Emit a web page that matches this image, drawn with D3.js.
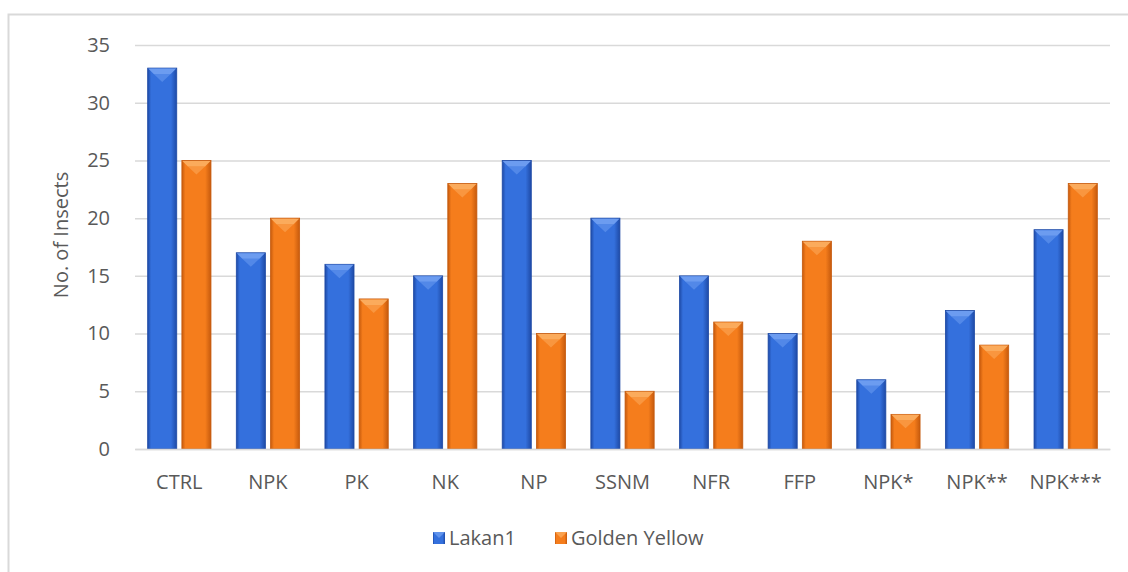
<!DOCTYPE html>
<html lang="en">
<head>
<meta charset="UTF-8">
<script src="https://d3js.org/d3.v7.min.js"></script>
<style>
  body { margin: 0; background: #fff; }
  text { font-family: "Open Sans", sans-serif; fill: #595959; }
</style>
</head>
<body>
<div id="chart"></div>
<script>
const categories = ["CTRL", "NPK", "PK", "NK", "NP", "SSNM", "NFR", "FFP", "NPK*", "NPK**", "NPK***"];
const seriesNames = ["Lakan1", "Golden Yellow"];
const lakan1 = [33, 17, 16, 15, 25, 20, 15, 10, 6, 12, 19];
const goldenYellow = [25, 20, 13, 23, 10, 5, 11, 18, 3, 9, 23];
const yTicks = [0, 5, 10, 15, 20, 25, 30, 35];

const width = 1128, height = 572;
const margin = {left: 135, right: 18, top: 45, bottom: 123};
const fs = 20;

const palette = {
  "Lakan1": {mid: "#3470dd", edge: "#1e4aa6", top: "#6c9cf0"},
  "Golden Yellow": {mid: "#f57d1c", edge: "#c65a0d", top: "#fbab5c"}
};

const rows = categories.map((c, i) => ({cat: c, "Lakan1": lakan1[i], "Golden Yellow": goldenYellow[i]}));

const svg = d3.select("#chart").append("svg")
  .attr("width", width).attr("height", height);

// outer frame
svg.append("rect")
  .attr("x", 8.5).attr("y", 14.5)
  .attr("width", width).attr("height", height)
  .attr("fill", "none").attr("stroke", "#d9d9d9").attr("stroke-width", 2);

const x0 = d3.scaleBand(categories, [margin.left, width - margin.right]);
const x1 = d3.scaleBand(seriesNames, [0, x0.bandwidth()]).paddingInner(0.15).paddingOuter(0.37);
const y = d3.scaleLinear([0, 35], [height - margin.bottom, margin.top]);

// gradients
const defs = svg.append("defs");
seriesNames.forEach((s, k) => {
  const p = palette[s];
  const g = defs.append("linearGradient").attr("id", "g" + k)
    .attr("x1", "0%").attr("x2", "100%").attr("y1", "0%").attr("y2", "0%");
  g.append("stop").attr("offset", "0%").attr("stop-color", p.edge);
  g.append("stop").attr("offset", "12%").attr("stop-color", p.mid);
  g.append("stop").attr("offset", "80%").attr("stop-color", p.mid);
  g.append("stop").attr("offset", "100%").attr("stop-color", p.edge);
});

// grid
svg.append("g")
  .attr("transform", `translate(${margin.left},0)`)
  .call(d3.axisLeft(y).tickValues(yTicks).tickSize(0).tickPadding(25))
  .call(g => g.select(".domain").remove())
  .call(g => g.selectAll(".tick line").clone()
    .attr("x2", width - margin.left - margin.right)
    .attr("stroke", "#d9d9d9").attr("stroke-width", 1.5))
  .call(g => g.selectAll(".tick text").attr("font-size", fs).attr("fill", "#595959"));

// bars
const groups = svg.append("g").selectAll("g")
  .data(rows).join("g")
  .attr("transform", d => `translate(${x0(d.cat)},0)`);

seriesNames.forEach((s, k) => {
  const p = palette[s];
  const bw = x1.bandwidth();
  const bar = groups.append("g").attr("transform", `translate(${x1(s)},0)`);
  bar.append("rect")
    .attr("x", 0).attr("width", bw)
    .attr("y", d => y(d[s])).attr("height", d => y(0) - y(d[s]))
    .attr("fill", `url(#g${k})`)
    .attr("stroke", p.edge).attr("stroke-width", 0.8);
  bar.append("path")
    .attr("d", d => {
      const t = y(d[s]);
      return `M0.5,${t + 0.5} L${bw - 0.5},${t + 0.5} L${bw - 6},${t + 6} L6,${t + 6} Z`;
    })
    .attr("fill", p.top);
  bar.append("path")
    .attr("d", d => {
      const t = y(d[s]);
      return `M6,${t + 6} L${bw - 6},${t + 6} L${bw / 2},${t + 14} Z`;
    })
    .attr("fill", p.top).attr("opacity", 0.55);
});

// x labels
svg.append("g")
  .attr("transform", `translate(0,${y(0)})`)
  .call(d3.axisBottom(x0).tickSize(0).tickPadding(26))
  .call(g => g.select(".domain").attr("stroke", "#d9d9d9").attr("stroke-width", 1.5))
  .call(g => g.selectAll(".tick text").attr("font-size", fs).attr("fill", "#595959"));

// y label
svg.append("text")
  .attr("transform", `translate(68,235) rotate(-90)`)
  .attr("text-anchor", "middle")
  .attr("font-size", fs)
  .text("No. of Insects");

// legend
const legend = svg.append("g").attr("transform", "translate(433,538)");
const legX = [0, 122];
seriesNames.forEach((s, k) => {
  const p = palette[s];
  const item = legend.append("g").attr("transform", `translate(${legX[k]},0)`);
  item.append("rect").attr("x", 0).attr("y", -6).attr("width", 12).attr("height", 12)
    .attr("fill", `url(#g${k})`);
  item.append("path").attr("d", "M0,-6 L12,-6 L6,0 Z").attr("fill", p.top).attr("opacity", 0.8);
  item.append("text").attr("x", 16).attr("y", 0).attr("dy", "0.35em")
    .attr("font-size", fs).text(s);
});
</script>
</body>
</html>
